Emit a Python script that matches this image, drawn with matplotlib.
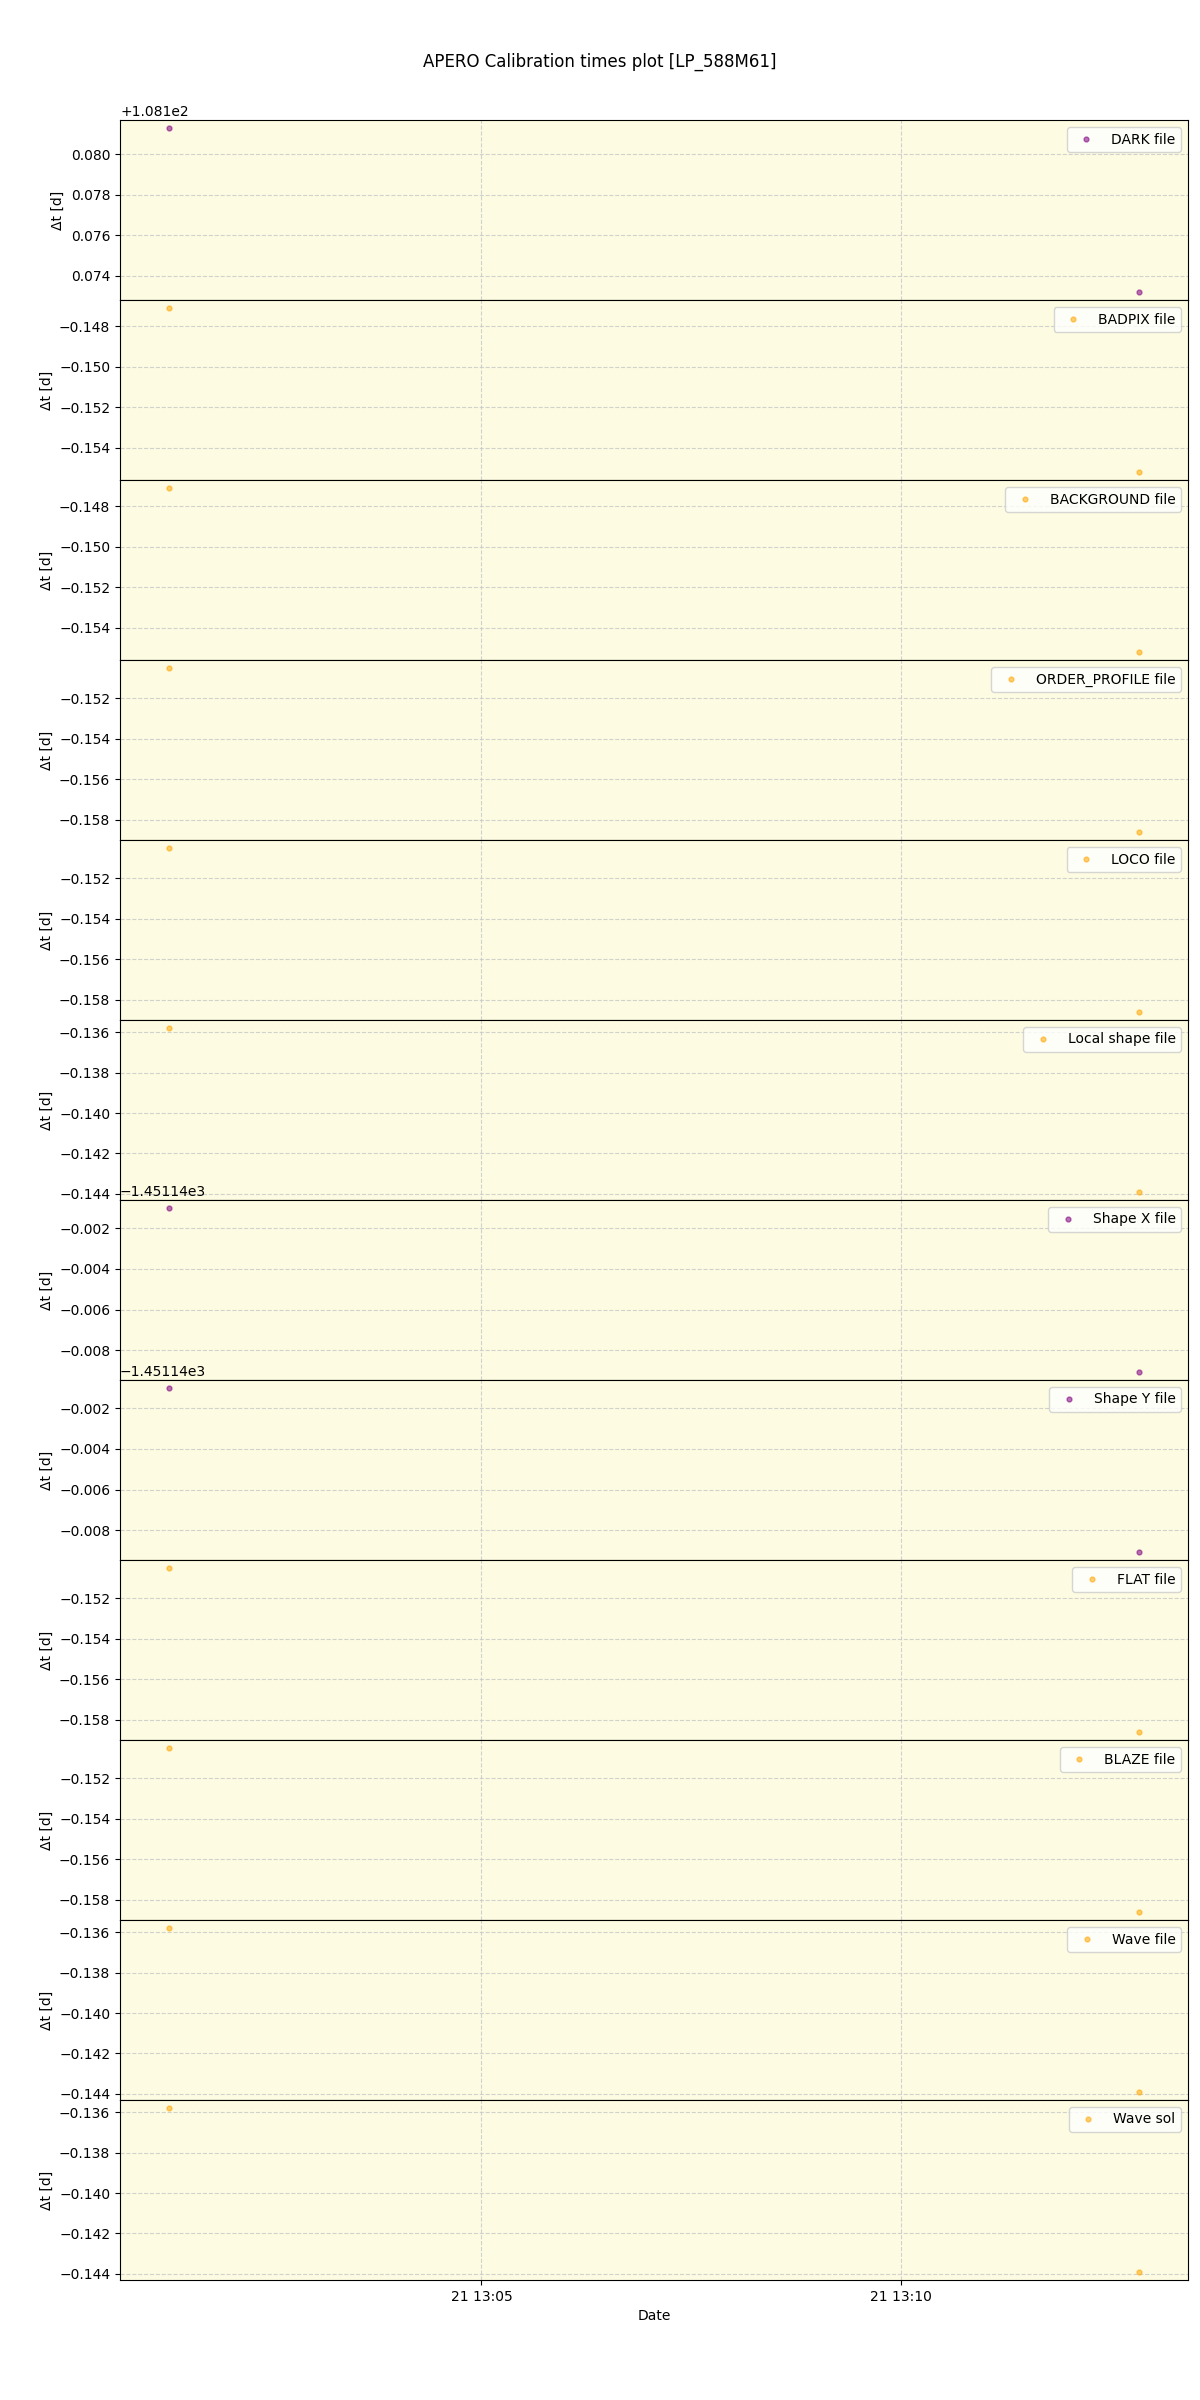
import matplotlib
matplotlib.use('Agg')
import matplotlib.pyplot as plt
import matplotlib.dates as mdates
from datetime import datetime

# observation times of the two science frames
obs_times = [datetime(2023, 8, 21, 13, 1, 16), datetime(2023, 8, 21, 13, 12, 51)]

labels = ['DARK file', 'BADPIX file', 'BACKGROUND file', 'ORDER_PROFILE file',
          'LOCO file', 'Local shape file', 'Shape X file', 'Shape Y file',
          'FLAT file', 'BLAZE file', 'Wave file', 'Wave sol']

colors = ['purple', 'orange', 'orange', 'orange', 'orange', 'orange',
          'purple', 'purple', 'orange', 'orange', 'orange', 'orange']

# delta t [days] between calibration and observation
dark_dt = [108.1813, 108.1732]
badpix_dt = [-0.1471, -0.1552]
background_dt = [-0.1471, -0.1552]
order_profile_dt = [-0.1505, -0.1586]
loco_dt = [-0.1505, -0.1586]
local_shape_dt = [-0.1358, -0.1439]
shape_x_dt = [-1451.14102, -1451.14905]
shape_y_dt = [-1451.14102, -1451.14905]
flat_dt = [-0.1505, -0.1586]
blaze_dt = [-0.1505, -0.1586]
wave_file_dt = [-0.1358, -0.1439]
wave_sol_dt = [-0.1358, -0.1439]

all_dt = [dark_dt, badpix_dt, background_dt, order_profile_dt, loco_dt,
          local_shape_dt, shape_x_dt, shape_y_dt, flat_dt, blaze_dt,
          wave_file_dt, wave_sol_dt]


def main():
    fig, axes = plt.subplots(len(labels), 1, figsize=(12, 24), dpi=100, sharex=True)
    fig.subplots_adjust(left=0.1, right=0.99, top=0.95, bottom=0.05, hspace=0)
    fig.suptitle('APERO Calibration times plot [LP_588M61]', y=0.978)

    for ax, lab, col, dt in zip(axes, labels, colors, all_dt):
        ax.set_facecolor('#fdfbe1')
        ax.plot(obs_times, dt, ls='none', marker='o', ms=3.5, color=col,
                alpha=0.55, label=lab)
        ax.grid(True, ls='--', color='#c8c8c8', alpha=0.8)
        ax.set_ylabel('Δt [d]')
        ax.legend(loc='upper right')

    axes[-1].xaxis.set_major_locator(mdates.MinuteLocator(byminute=range(0, 60, 5)))
    axes[-1].xaxis.set_major_formatter(mdates.DateFormatter('%d %H:%M'))
    axes[-1].set_xlabel('Date')

    fig.savefig('out.png')


if __name__ == "__main__":
    main()
